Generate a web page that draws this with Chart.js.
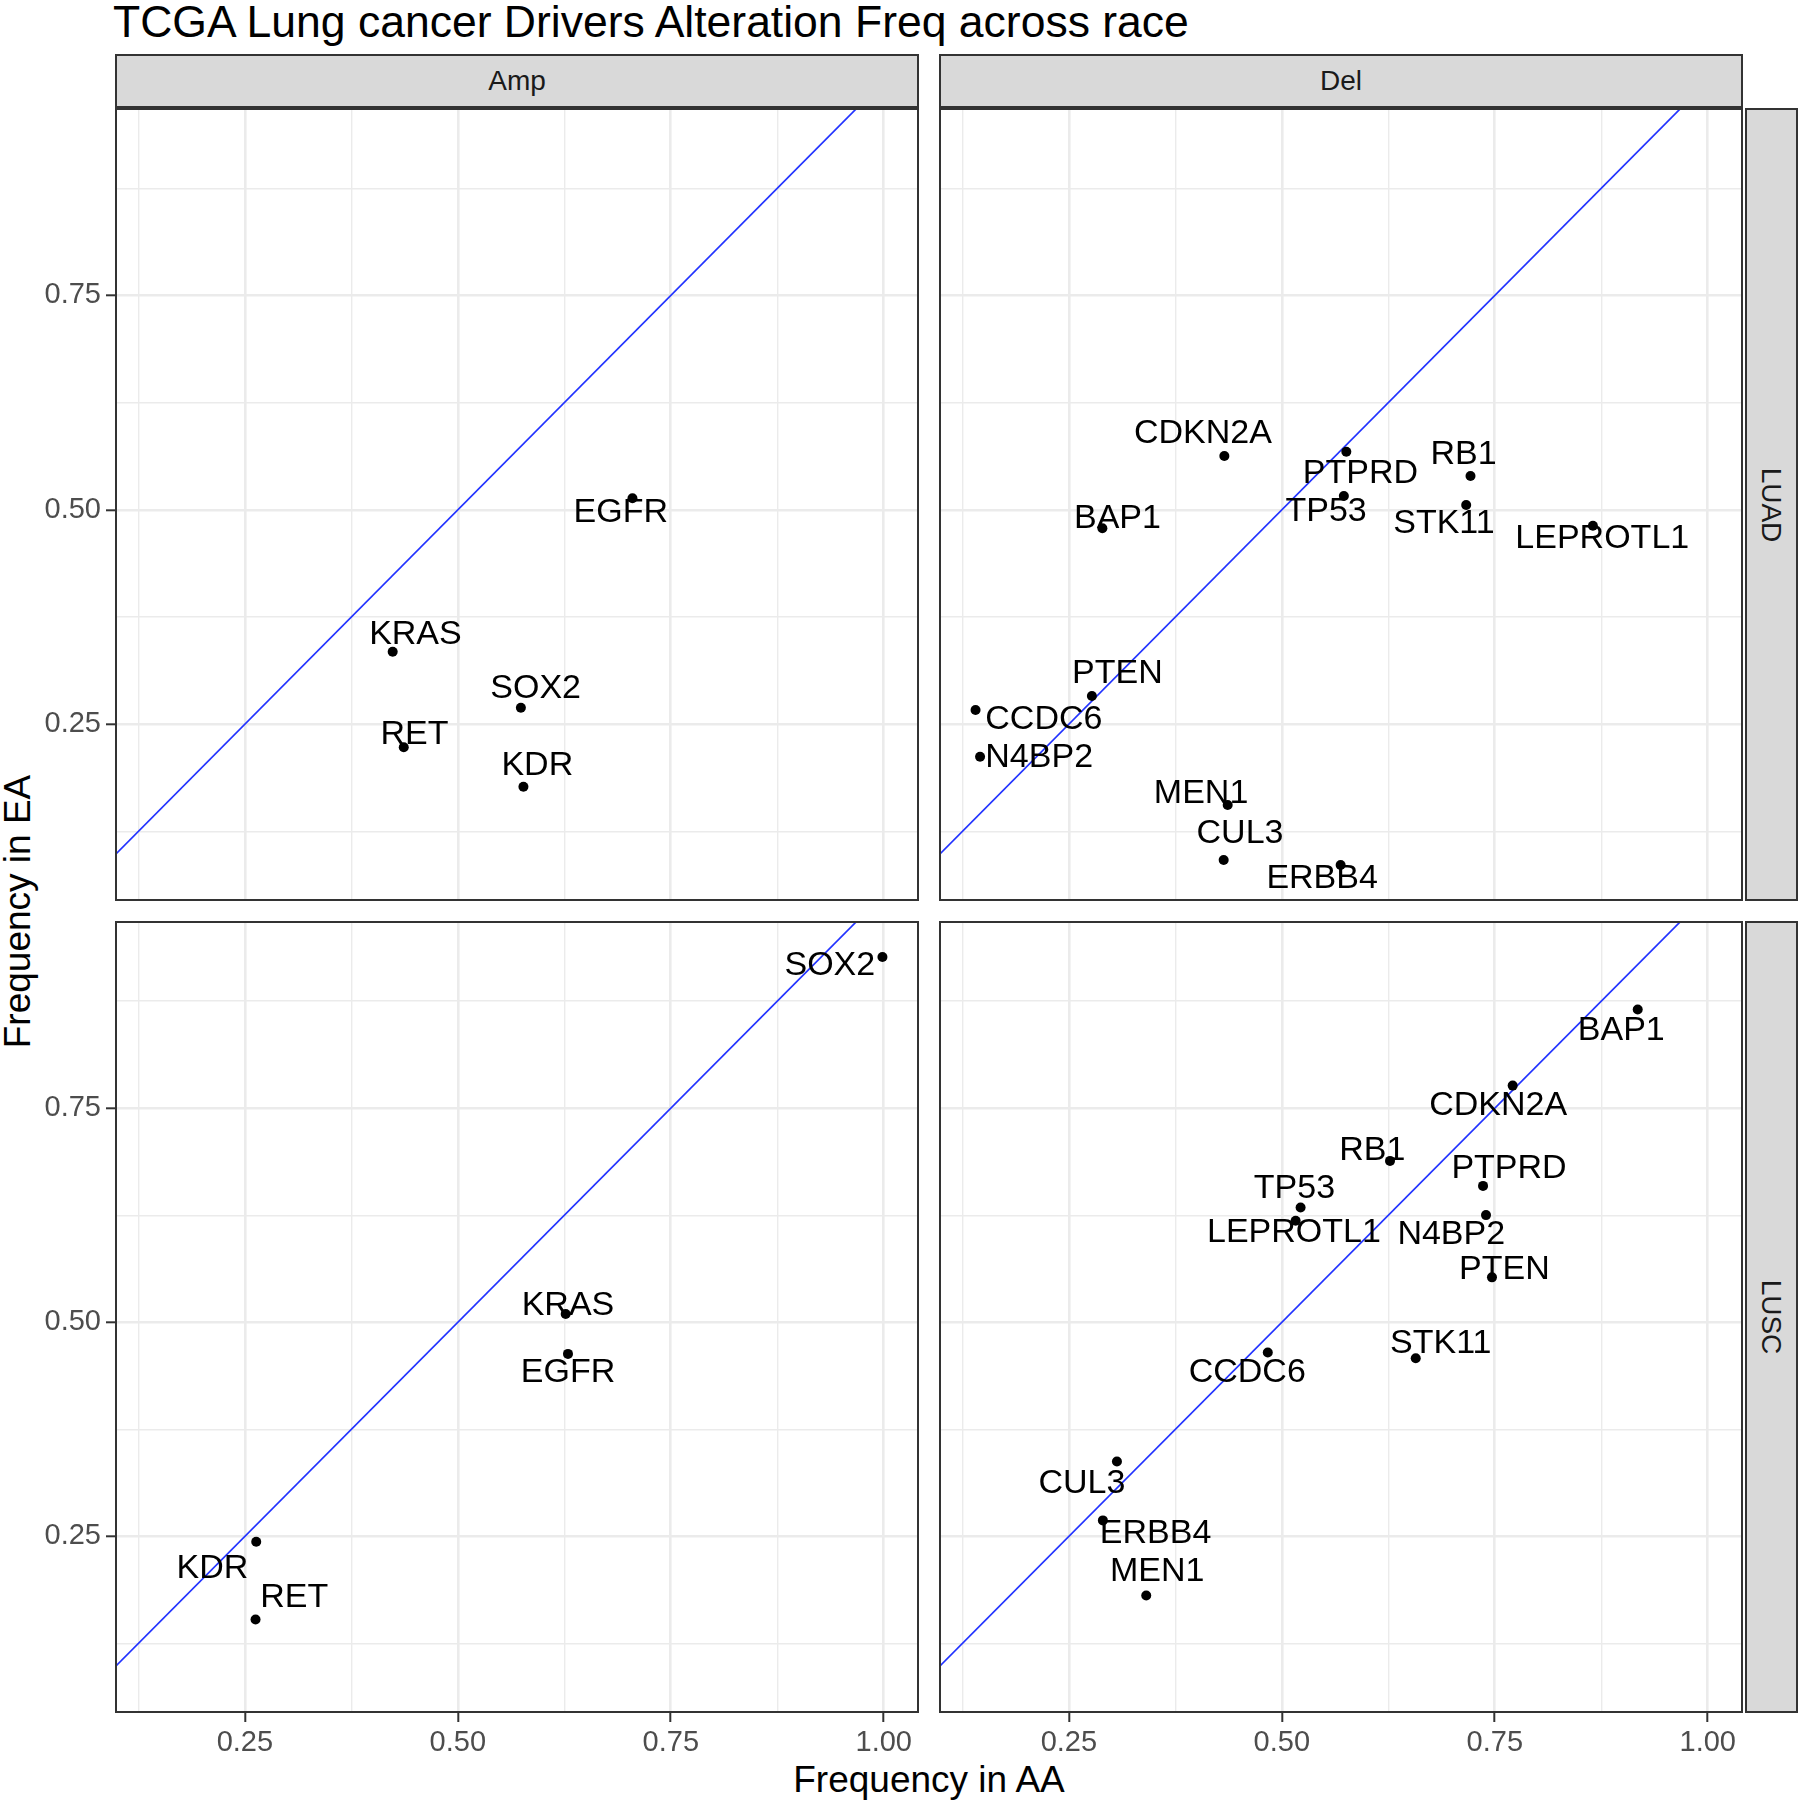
<!DOCTYPE html>
<html>
<head>
<meta charset="utf-8">
<script src="https://cdn.jsdelivr.net/npm/chart.js@4.4.1/dist/chart.umd.min.js"></script>
<style>
  html, body { margin: 0; padding: 0; background: #ffffff; }
  #root { position: relative; width: 1800px; height: 1804px; background: #ffffff; overflow: hidden;
          font-family: "Liberation Sans", Arial, Helvetica, sans-serif; }
  .abs { position: absolute; }
  .title { left: 113px; top: 0px; font-size: 44.5px; line-height: 44px; color: #000; white-space: nowrap; }
  .strip { position: absolute; background: #D9D9D9; border: 2px solid #333333; box-sizing: border-box;
           display: flex; align-items: center; justify-content: center; color: #1A1A1A; font-size: 28px; }
  .strip span { display: inline-block; white-space: nowrap; line-height: 28px; }
  .strip.right span { transform: rotate(90deg); }
  .xtitle { left: 115px; width: 1628px; top: 1761px; font-size: 37px; line-height: 37px; text-align: center; color: #000; }
  .ytitle { width: 500px; height: 37px; font-size: 37px; line-height: 37px; text-align: center; color: #000;
            left: -233px; top: 893px; transform: rotate(-90deg); white-space: nowrap; }
  canvas { position: absolute; }
</style>
</head>
<body>
<div id="root">
  <div class="abs title">TCGA Lung cancer Drivers Alteration Freq across race</div>
  <div class="strip" style="left:115px; top:54px; width:804px; height:54px;"><span id="colLab0"></span></div>
  <div class="strip" style="left:939px; top:54px; width:804px; height:54px;"><span id="colLab1"></span></div>
  <div class="strip right" style="left:1745px; top:108px; width:53px; height:793px;"><span id="rowLab0"></span></div>
  <div class="strip right" style="left:1745px; top:921px; width:53px; height:792px;"><span id="rowLab1"></span></div>
  <div class="abs xtitle" id="xTitle"></div>
  <div class="abs ytitle" id="yTitle"></div>
  <canvas id="c00"></canvas>
  <canvas id="c01"></canvas>
  <canvas id="c10"></canvas>
  <canvas id="c11"></canvas>
</div>
<script>
// ---------------- DATA ----------------
const chartTitle = "TCGA Lung cancer Drivers Alteration Freq across race";
const xAxisTitle = "Frequency in AA";
const yAxisTitle = "Frequency in EA";
const facetCols = ["Amp", "Del"];
const facetRows = ["LUAD", "LUSC"];

const majorTicks = [0.25, 0.50, 0.75, 1.00];
const tickLabels = ["0.25", "0.50", "0.75", "1.00"];
const gridValues = [0.125, 0.25, 0.375, 0.50, 0.625, 0.75, 0.875, 1.00];

// Amp / LUAD
const ampLuadGenes = ["EGFR", "KRAS", "SOX2", "RET", "KDR"];
const ampLuadAA = [0.705, 0.4235, 0.574, 0.4365, 0.577];
const ampLuadEA = [0.5134, 0.3345, 0.2692, 0.223, 0.177];
const ampLuadLabelAA = [0.6913, 0.4502, 0.5913, 0.449, 0.5933];
const ampLuadLabelEA = [0.4966, 0.3543, 0.2918, 0.2373, 0.2015];

// Del / LUAD
const delLuadGenes = ["CDKN2A", "PTPRD", "RB1", "TP53", "STK11", "LEPROTL1", "BAP1", "PTEN", "CCDC6", "N4BP2", "MEN1", "CUL3", "ERBB4"];
const delLuadAA = [0.4325, 0.5757, 0.7215, 0.5728, 0.7164, 0.8652, 0.2893, 0.277, 0.1404, 0.1457, 0.4364, 0.4317, 0.569];
const delLuadEA = [0.5627, 0.5677, 0.5394, 0.5161, 0.5056, 0.4814, 0.4784, 0.2828, 0.2665, 0.212, 0.1557, 0.0916, 0.0858];
const delLuadLabelAA = [0.4074, 0.5923, 0.7134, 0.552, 0.6903, 0.8762, 0.307, 0.307, 0.2206, 0.2151, 0.4052, 0.4509, 0.5473];
const delLuadLabelEA = [0.5892, 0.5425, 0.5639, 0.4978, 0.4842, 0.4667, 0.4901, 0.3085, 0.2548, 0.2105, 0.1693, 0.1227, 0.070];

// Amp / LUSC
const ampLuscGenes = ["SOX2", "KRAS", "EGFR", "KDR", "RET"];
const ampLuscAA = [0.9985, 0.6266, 0.6293, 0.2633, 0.2625];
const ampLuscEA = [0.9266, 0.5098, 0.4631, 0.2437, 0.153];
const ampLuscLabelAA = [0.9367, 0.6293, 0.6293, 0.2119, 0.308];
const ampLuscLabelEA = [0.9161, 0.5199, 0.4409, 0.2124, 0.1782];

// Del / LUSC
const delLuscGenes = ["BAP1", "CDKN2A", "RB1", "PTPRD", "TP53", "N4BP2", "LEPROTL1", "PTEN", "STK11", "CCDC6", "CUL3", "ERBB4", "MEN1"];
const delLuscAA = [0.9178, 0.771, 0.627, 0.7362, 0.522, 0.7397, 0.5162, 0.7467, 0.6572, 0.4835, 0.3064, 0.2899, 0.3408];
const delLuscEA = [0.8652, 0.7764, 0.6885, 0.6593, 0.6341, 0.6252, 0.6185, 0.5525, 0.4581, 0.4647, 0.3375, 0.2687, 0.1809];
const delLuscLabelAA = [0.8985, 0.754, 0.6063, 0.7667, 0.5148, 0.6989, 0.5142, 0.7613, 0.6866, 0.4594, 0.2653, 0.3518, 0.3537];
const delLuscLabelEA = [0.841, 0.7534, 0.701, 0.6796, 0.6563, 0.6019, 0.605, 0.561, 0.4756, 0.4418, 0.3115, 0.2532, 0.2085];

// ---------------- TEXT ----------------
document.querySelector('.title').textContent = chartTitle;
document.getElementById('xTitle').textContent = xAxisTitle;
document.getElementById('yTitle').textContent = yAxisTitle;
document.getElementById('colLab0').textContent = facetCols[0];
document.getElementById('colLab1').textContent = facetCols[1];
document.getElementById('rowLab0').textContent = facetRows[0];
document.getElementById('rowLab1').textContent = facetRows[1];

// ---------------- SCALES (shared, ggplot-like 5% expansion) ----------------
const allAA = [].concat(ampLuadAA, delLuadAA, ampLuscAA, delLuscAA);
const allEA = [].concat(ampLuadEA, delLuadEA, ampLuscEA, delLuscEA);
const xLo = Math.min(...allAA), xHi = Math.max(...allAA);
const yLo = Math.min(...allEA), yHi = Math.max(...allEA);
const xMin = xLo - (xHi - xLo) * 0.05, xMax = xHi + (xHi - xLo) * 0.05;
const yMin = yLo - (yHi - yLo) * 0.05, yMax = yHi + (yHi - yLo) * 0.05;

const FONT = '"Liberation Sans", Arial, Helvetica, sans-serif';
function isMajor(v) { return majorTicks.some(m => Math.abs(m - v) < 1e-9); }
function labelFor(v) {
  const i = majorTicks.findIndex(m => Math.abs(m - v) < 1e-9);
  return i < 0 ? '' : tickLabels[i];
}

function axisCfg(min, max, show, horizontal) {
  return {
    type: 'linear',
    position: horizontal ? 'bottom' : 'left',
    min: min, max: max,
    border: { display: false },
    grid: {
      color: '#EBEBEB',
      lineWidth: c => (c.tick && isMajor(c.tick.value)) ? 2.6 : 1.4,
      drawTicks: show,
      tickLength: 9,
      tickWidth: 2,
      tickColor: c => (c.tick && isMajor(c.tick.value)) ? '#333333' : 'rgba(0,0,0,0)'
    },
    ticks: {
      display: show,
      autoSkip: false,
      maxRotation: 0, minRotation: 0,
      includeBounds: false,
      padding: horizontal ? 4 : 5,
      color: '#4D4D4D',
      font: { family: FONT, size: 29 },
      callback: v => labelFor(v)
    },
    afterBuildTicks: s => {
      s.ticks = gridValues.filter(v => v >= min && v <= max).map(v => ({ value: v }));
    },
    afterFit: s => {
      if (horizontal) s.height = show ? 60 : 0; else s.width = show ? 115 : 0;
      s.paddingTop = 0; s.paddingBottom = 0; s.paddingLeft = 0; s.paddingRight = 0;
    }
  };
}

const panelLayout = [
  { id: 'c00', left: 0,   top: 108, width: 919, height: 793, showX: false, showY: true },
  { id: 'c01', left: 939, top: 108, width: 804, height: 793, showX: false, showY: false },
  { id: 'c10', left: 0,   top: 921, width: 919, height: 852, showX: true,  showY: true },
  { id: 'c11', left: 939, top: 921, width: 804, height: 852, showX: true,  showY: false }
];
const panelData = [
  { genes: ampLuadGenes, aa: ampLuadAA, ea: ampLuadEA, lx: ampLuadLabelAA, ly: ampLuadLabelEA },
  { genes: delLuadGenes, aa: delLuadAA, ea: delLuadEA, lx: delLuadLabelAA, ly: delLuadLabelEA },
  { genes: ampLuscGenes, aa: ampLuscAA, ea: ampLuscEA, lx: ampLuscLabelAA, ly: ampLuscLabelEA },
  { genes: delLuscGenes, aa: delLuscAA, ea: delLuscEA, lx: delLuscLabelAA, ly: delLuscLabelEA }
];

const borderPlugin = {
  id: 'panelBorder',
  afterDraw(chart) {
    const a = chart.chartArea, ctx = chart.ctx;
    ctx.save();
    ctx.strokeStyle = '#333333';
    ctx.lineWidth = 2;
    ctx.strokeRect(a.left + 1, a.top + 1, a.right - a.left - 2, a.bottom - a.top - 2);
    ctx.restore();
  }
};

panelLayout.forEach((p, k) => {
  const d = panelData[k];
  const cv = document.getElementById(p.id);
  cv.width = p.width; cv.height = p.height;
  cv.style.left = p.left + 'px'; cv.style.top = p.top + 'px';
  cv.style.width = p.width + 'px'; cv.style.height = p.height + 'px';

  const labelPlugin = {
    id: 'geneLabels',
    afterDatasetsDraw(chart) {
      const ctx = chart.ctx, xs = chart.scales.x, ys = chart.scales.y;
      ctx.save();
      ctx.font = '34px ' + FONT;
      ctx.fillStyle = '#000000';
      ctx.textAlign = 'center';
      ctx.textBaseline = 'middle';
      d.genes.forEach((g, i) => {
        ctx.fillText(g, xs.getPixelForValue(d.lx[i]), ys.getPixelForValue(d.ly[i]));
      });
      ctx.restore();
    }
  };

  new Chart(cv, {
    type: 'scatter',
    data: {
      datasets: [
        {
          type: 'scatter',
          data: d.aa.map((x, i) => ({ x: x, y: d.ea[i] })),
          pointRadius: 5,
          pointHoverRadius: 5,
          pointBackgroundColor: '#000000',
          pointBorderWidth: 0,
          backgroundColor: '#000000',
          clip: 0
        },
        {
          type: 'line',
          data: [{ x: xMin, y: xMin }, { x: xMax, y: xMax }],
          borderColor: '#2233ff',
          borderWidth: 1.7,
          pointRadius: 0,
          fill: false,
          tension: 0,
          clip: 0
        }
      ]
    },
    options: {
      responsive: false,
      maintainAspectRatio: false,
      animation: false,
      devicePixelRatio: 1,
      layout: { padding: 0, autoPadding: false },
      events: [],
      plugins: { legend: { display: false }, tooltip: { enabled: false }, title: { display: false } },
      scales: {
        x: axisCfg(xMin, xMax, p.showX, true),
        y: axisCfg(yMin, yMax, p.showY, false)
      }
    },
    plugins: [labelPlugin, borderPlugin]
  });
});
</script>
</body>
</html>
